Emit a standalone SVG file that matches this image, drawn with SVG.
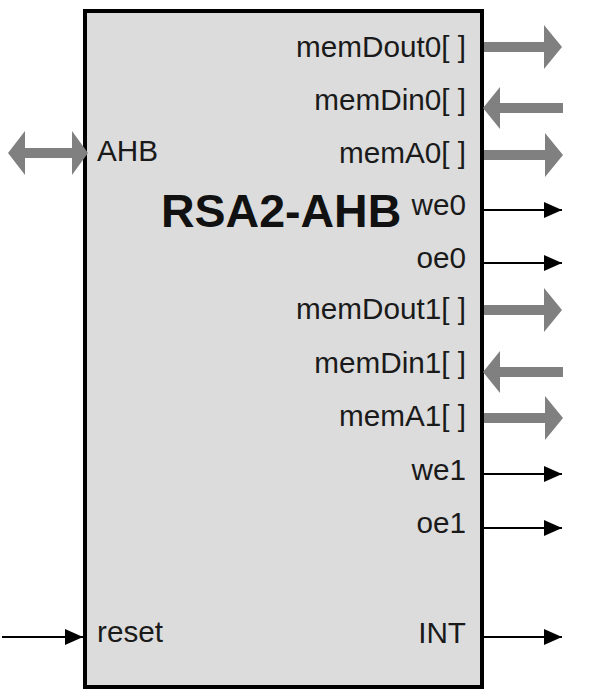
<svg xmlns="http://www.w3.org/2000/svg" width="598" height="700" viewBox="0 0 598 700">
<defs>
<style>
.lbl{font-family:"Liberation Sans",Arial,sans-serif;font-size:29.7px;fill:#1a1a1a}
.r{text-anchor:end}
.title{font-family:"Liberation Sans",Arial,sans-serif;font-size:46.5px;font-weight:bold;fill:#111}
.bus{fill:#808080;stroke:none}
.sig{stroke:#000;stroke-width:2;fill:none}
.head{fill:#000}
</style>
<marker id="ah" viewBox="0 0 18 16" refX="18" refY="8" markerWidth="18" markerHeight="16" markerUnits="userSpaceOnUse" orient="auto">
<path d="M0,0 L18,8 L0,16 Z" class="head"/>
</marker>
</defs>
<rect width="598" height="700" fill="#fff"/>
<g id="rsa2-ahb">
<rect x="85" y="11" width="397" height="676" fill="#dcdcdc" stroke="#000" stroke-width="4"/>
<text class="title" x="161" y="227">RSA2-AHB</text>
<text class="lbl" x="97" y="161">AHB</text>
<text class="lbl" x="97" y="642">reset</text>
<text class="lbl r" x="466" y="57">memDout0[ ]</text>
<text class="lbl r" x="466" y="110">memDin0[ ]</text>
<text class="lbl r" x="466" y="163">memA0[ ]</text>
<text class="lbl r" x="466" y="215">we0</text>
<text class="lbl r" x="466" y="268">oe0</text>
<text class="lbl r" x="466" y="319">memDout1[ ]</text>
<text class="lbl r" x="466" y="373">memDin1[ ]</text>
<text class="lbl r" x="466" y="426">memA1[ ]</text>
<text class="lbl r" x="466" y="480">we1</text>
<text class="lbl r" x="466" y="533">oe1</text>
<text class="lbl r" x="466" y="643">INT</text>
</g>
<g id="connectors">
<path class="bus" d="M8,153 L25,131 V148 H72 V131 L88,153 L72,175 V158 H25 V175 Z"/>
<path class="bus" d="M484,42 H544 V25 L562,47 L544,69 V52 H484 Z"/>
<path class="bus" d="M563,103 H500 V87 L483,108 L500,129 V113 H563 Z"/>
<path class="bus" d="M484,150 H545 V133 L563,155 L545,177 V160 H484 Z"/>
<path class="bus" d="M484,305 H544 V288 L562,310 L544,332 V315 H484 Z"/>
<path class="bus" d="M563,367 H500 V351 L483,372 L500,393 V377 H563 Z"/>
<path class="bus" d="M484,413 H545 V396 L563,418 L545,440 V423 H484 Z"/>
<line class="sig" x1="484" y1="210" x2="562" y2="210" marker-end="url(#ah)"/>
<line class="sig" x1="484" y1="263" x2="562" y2="263" marker-end="url(#ah)"/>
<line class="sig" x1="484" y1="474" x2="562" y2="474" marker-end="url(#ah)"/>
<line class="sig" x1="484" y1="528" x2="562" y2="528" marker-end="url(#ah)"/>
<line class="sig" x1="484" y1="637" x2="562" y2="637" marker-end="url(#ah)"/>
<line class="sig" x1="2" y1="637" x2="83" y2="637" marker-end="url(#ah)"/>
</g>
</svg>
